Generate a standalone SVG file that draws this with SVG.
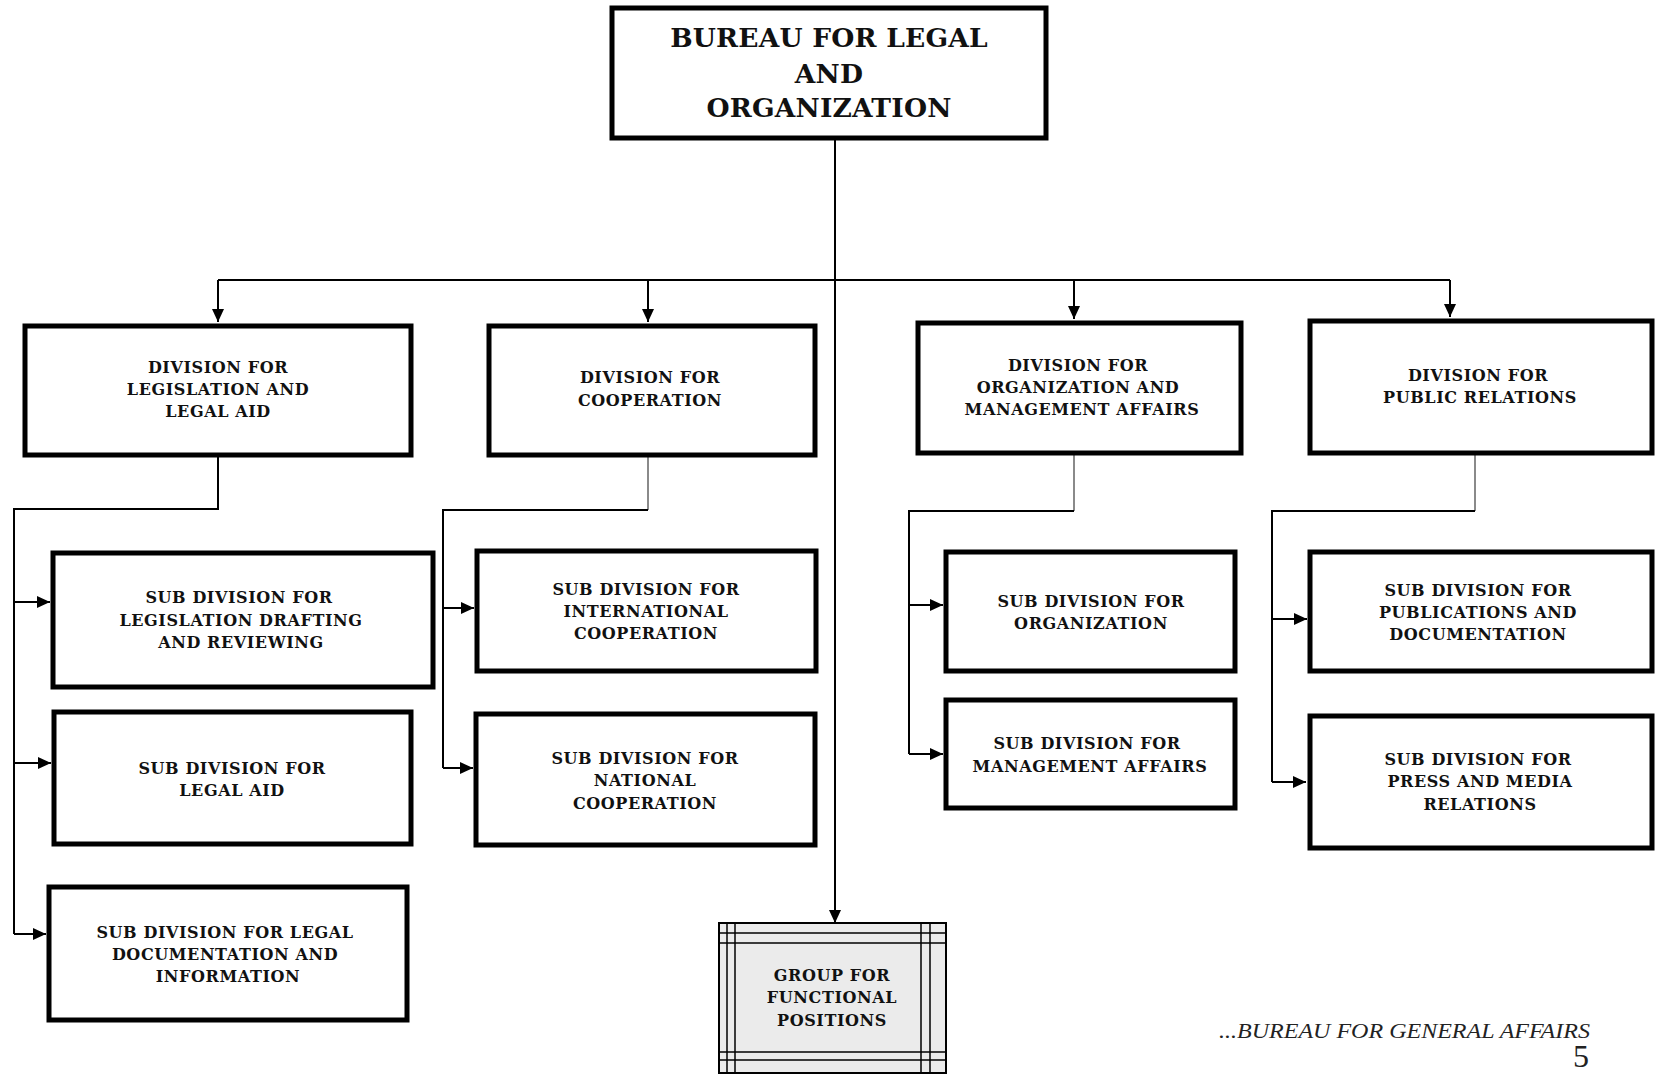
<svg xmlns="http://www.w3.org/2000/svg" width="1658" height="1080" viewBox="0 0 1658 1080">
<defs>
<marker id="arr" markerUnits="userSpaceOnUse" markerWidth="14" markerHeight="14" refX="13" refY="7" orient="auto">
<path d="M0,1 L13,7 L0,13 Z" fill="#000"/>
</marker>
<style>
.box{fill:#fff;stroke:#000;stroke-width:5}
.t{font-family:"DejaVu Serif","Liberation Serif",serif;font-weight:bold;font-size:16px;letter-spacing:0.6px;fill:#111;text-anchor:middle}
.big{font-size:26.5px;letter-spacing:0.2px}
.c{fill:none;stroke:#000;stroke-width:2}
.g{fill:none;stroke:#8a8a8a;stroke-width:2}
.ca{fill:none;stroke:#000;stroke-width:2;marker-end:url(#arr)}
.thin{stroke:#000;stroke-width:1.5;fill:none}
</style>
</defs>
<rect width="1658" height="1080" fill="#fff"/>

<g id="connectors">
<line class="c" x1="835" y1="139" x2="835" y2="280"/>
<line class="ca" x1="835" y1="280" x2="835" y2="923"/>
<line class="c" x1="218" y1="280" x2="1450" y2="280"/>
<line class="ca" x1="218" y1="280" x2="218" y2="322"/>
<line class="ca" x1="648" y1="280" x2="648" y2="322"/>
<line class="ca" x1="1074" y1="280" x2="1074" y2="319"/>
<line class="ca" x1="1450" y1="280" x2="1450" y2="317"/>

<polyline class="c" points="218,457 218,509 14,509 14,934"/>
<line class="ca" x1="14" y1="602" x2="50" y2="602"/>
<line class="ca" x1="14" y1="763" x2="51" y2="763"/>
<line class="ca" x1="14" y1="934" x2="46" y2="934"/>

<line class="g" x1="648" y1="457" x2="648" y2="510"/>
<polyline class="c" points="648,510 443,510 443,768"/>
<line class="ca" x1="443" y1="608" x2="474" y2="608"/>
<line class="ca" x1="443" y1="768" x2="473" y2="768"/>

<line class="g" x1="1074" y1="455" x2="1074" y2="511"/>
<polyline class="c" points="1074,511 909,511 909,754"/>
<line class="ca" x1="909" y1="605" x2="943" y2="605"/>
<line class="ca" x1="909" y1="754" x2="943" y2="754"/>

<line class="g" x1="1475" y1="455" x2="1475" y2="511"/>
<polyline class="c" points="1475,511 1272,511 1272,782"/>
<line class="ca" x1="1272" y1="619" x2="1307" y2="619"/>
<line class="ca" x1="1272" y1="782" x2="1306" y2="782"/>
</g>

<g id="bureau">
<rect class="box" x="612" y="8" width="434" height="130"/>
<text class="t big" x="829" y="47">BUREAU FOR LEGAL</text>
<text class="t big" x="829" y="83">AND</text>
<text class="t big" x="829" y="117">ORGANIZATION</text>
</g>

<g id="div-legislation">
<rect class="box" x="25" y="326" width="386" height="129"/>
<text class="t" x="218" y="373">DIVISION FOR</text>
<text class="t" x="218" y="395">LEGISLATION AND</text>
<text class="t" x="218" y="417">LEGAL AID</text>
</g>

<g id="div-cooperation">
<rect class="box" x="489" y="326" width="326" height="129"/>
<text class="t" x="650" y="383">DIVISION FOR</text>
<text class="t" x="650" y="406">COOPERATION</text>
</g>

<g id="div-organization">
<rect class="box" x="918" y="323" width="323" height="130"/>
<text class="t" x="1078" y="371">DIVISION FOR</text>
<text class="t" x="1078" y="393">ORGANIZATION AND</text>
<text class="t" x="1082" y="415">MANAGEMENT AFFAIRS</text>
</g>

<g id="div-public">
<rect class="box" x="1310" y="321" width="342" height="132"/>
<text class="t" x="1478" y="381">DIVISION FOR</text>
<text class="t" x="1480" y="403">PUBLIC RELATIONS</text>
</g>

<g id="sub-drafting">
<rect class="box" x="53" y="553" width="380" height="134"/>
<text class="t" x="239" y="603">SUB DIVISION FOR</text>
<text class="t" x="241" y="626">LEGISLATION DRAFTING</text>
<text class="t" x="241" y="648">AND REVIEWING</text>
</g>

<g id="sub-legal-aid">
<rect class="box" x="54" y="712" width="357" height="132"/>
<text class="t" x="232" y="774">SUB DIVISION FOR</text>
<text class="t" x="232" y="796">LEGAL AID</text>
</g>

<g id="sub-documentation">
<rect class="box" x="49" y="887" width="358" height="133"/>
<text class="t" x="225" y="938">SUB DIVISION FOR LEGAL</text>
<text class="t" x="225" y="960">DOCUMENTATION AND</text>
<text class="t" x="228" y="982">INFORMATION</text>
</g>

<g id="sub-international">
<rect class="box" x="477" y="551" width="339" height="120"/>
<text class="t" x="646" y="595">SUB DIVISION FOR</text>
<text class="t" x="646" y="617">INTERNATIONAL</text>
<text class="t" x="646" y="639">COOPERATION</text>
</g>

<g id="sub-national">
<rect class="box" x="476" y="714" width="339" height="131"/>
<text class="t" x="645" y="764">SUB DIVISION FOR</text>
<text class="t" x="645" y="786">NATIONAL</text>
<text class="t" x="645" y="809">COOPERATION</text>
</g>

<g id="sub-organization">
<rect class="box" x="946" y="552" width="289" height="119"/>
<text class="t" x="1091" y="607">SUB DIVISION FOR</text>
<text class="t" x="1091" y="629">ORGANIZATION</text>
</g>

<g id="sub-management">
<rect class="box" x="946" y="700" width="289" height="108"/>
<text class="t" x="1087" y="749">SUB DIVISION FOR</text>
<text class="t" x="1090" y="772">MANAGEMENT AFFAIRS</text>
</g>

<g id="sub-publications">
<rect class="box" x="1310" y="552" width="342" height="119"/>
<text class="t" x="1478" y="596">SUB DIVISION FOR</text>
<text class="t" x="1478" y="618">PUBLICATIONS AND</text>
<text class="t" x="1478" y="640">DOCUMENTATION</text>
</g>

<g id="sub-press">
<rect class="box" x="1310" y="716" width="342" height="132"/>
<text class="t" x="1478" y="765">SUB DIVISION FOR</text>
<text class="t" x="1480" y="787">PRESS AND MEDIA</text>
<text class="t" x="1480" y="810">RELATIONS</text>
</g>

<g id="group-functional">
<rect x="719" y="923" width="227" height="150" fill="#ebebeb" stroke="#000" stroke-width="2"/>
<line class="thin" x1="727" y1="923" x2="727" y2="1073"/>
<line class="thin" x1="735" y1="923" x2="735" y2="1073"/>
<line class="thin" x1="921" y1="923" x2="921" y2="1073"/>
<line class="thin" x1="930" y1="923" x2="930" y2="1073"/>
<line class="thin" x1="719" y1="933" x2="946" y2="933"/>
<line class="thin" x1="719" y1="943" x2="946" y2="943"/>
<line class="thin" x1="719" y1="1052" x2="946" y2="1052"/>
<line class="thin" x1="719" y1="1060" x2="946" y2="1060"/>
<text class="t" x="832" y="981">GROUP FOR</text>
<text class="t" x="832" y="1003">FUNCTIONAL</text>
<text class="t" x="832" y="1026">POSITIONS</text>
</g>

<g id="footer">
<text x="1219" y="1038" font-family="Liberation Serif, serif" font-style="italic" font-size="20" fill="#222" textLength="371" lengthAdjust="spacingAndGlyphs">...BUREAU FOR GENERAL AFFAIRS</text>
<text x="1581" y="1067" font-family="Liberation Serif, serif" font-size="32" fill="#222" text-anchor="middle">5</text>
</g>
</svg>
